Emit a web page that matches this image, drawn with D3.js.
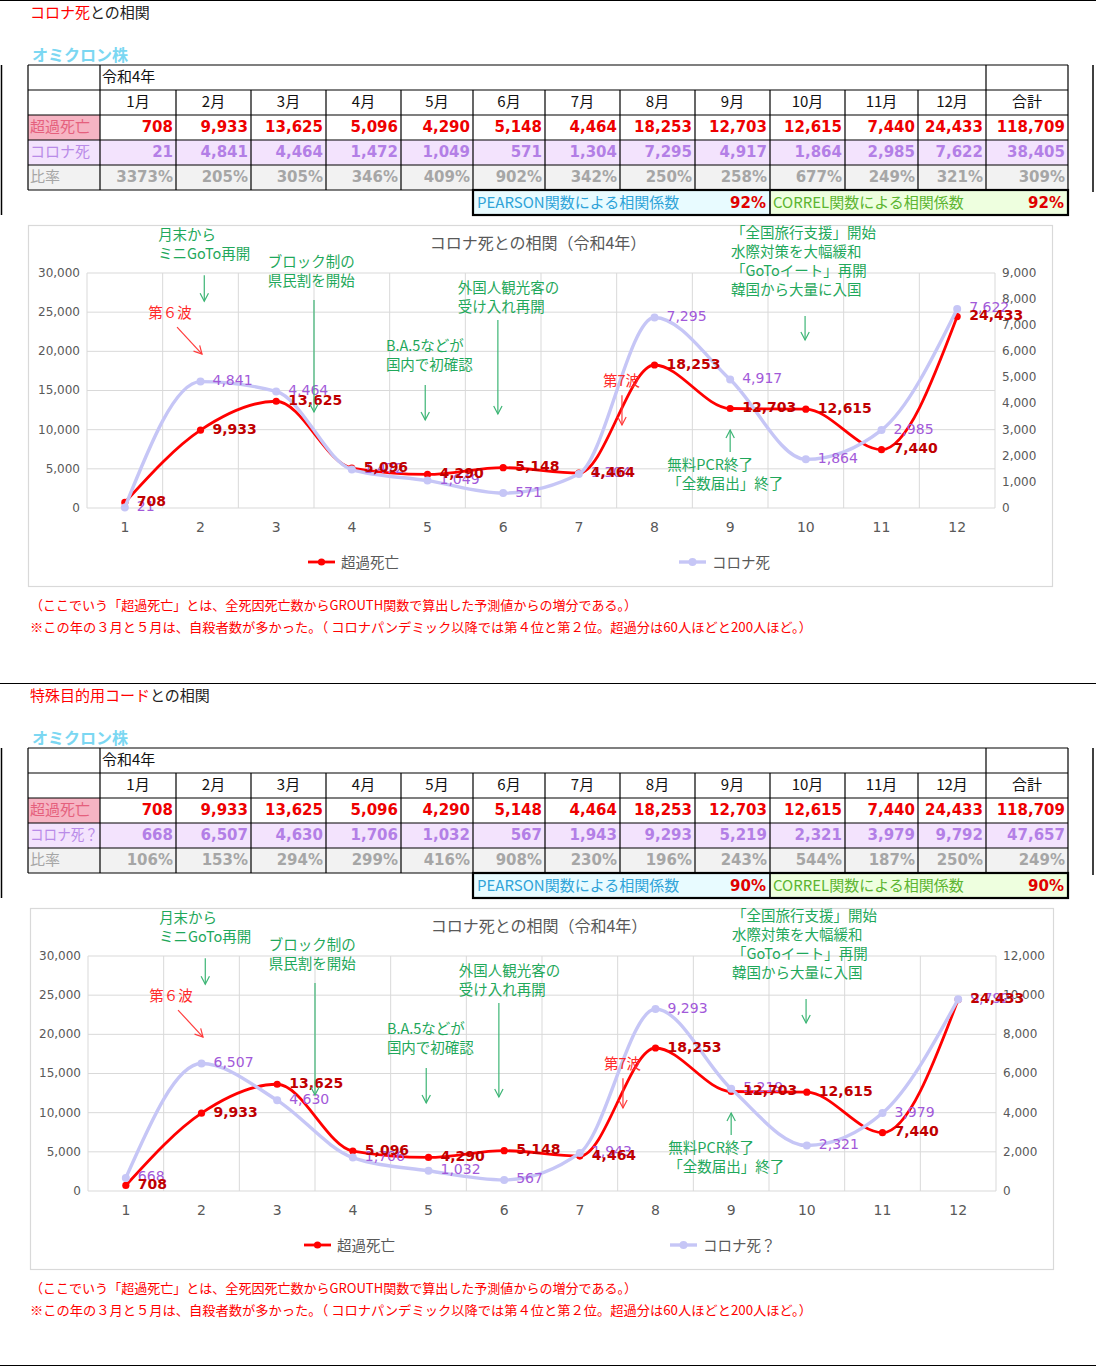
<!DOCTYPE html>
<html>
<head>
<meta charset="utf-8">
<script src="https://cdn.jsdelivr.net/npm/d3@7"></script>
<style>
  body { margin: 0; background: #fff; }
  svg { display: block; font-family: "Noto Sans CJK JP", sans-serif; }
  .num { font-family: "DejaVu Sans", "Noto Sans CJK JP", sans-serif; }
</style>
</head>
<body>
<div id="page"></div>
<script>
//==================== données ====================//
const months = [1, 2, 3, 4, 5, 6, 7, 8, 9, 10, 11, 12];
const monthLabels = ["1月", "2月", "3月", "4月", "5月", "6月", "7月", "8月", "9月", "10月", "11月", "12月"];

const excessDeaths = [708, 9933, 13625, 5096, 4290, 5148, 4464, 18253, 12703, 12615, 7440, 24433];
const excessTotal = 118709;

const coronaDeaths = [21, 4841, 4464, 1472, 1049, 571, 1304, 7295, 4917, 1864, 2985, 7622];
const coronaTotal = 38405;
const coronaRatio = ["3373%", "205%", "305%", "346%", "409%", "902%", "342%", "250%", "258%", "677%", "249%", "321%"];
const coronaRatioTotal = "309%";

const specialDeaths = [668, 6507, 4630, 1706, 1032, 567, 1943, 9293, 5219, 2321, 3979, 9792];
const specialTotal = 47657;
const specialRatio = ["106%", "153%", "294%", "299%", "416%", "908%", "230%", "196%", "243%", "544%", "187%", "250%"];
const specialRatioTotal = "249%";

const pearsonValues = ["92%", "90%"];
const correlValues = ["92%", "90%"];

const leftTicks = [0, 5000, 10000, 15000, 20000, 25000, 30000];
const rightTicks1 = [0, 1000, 2000, 3000, 4000, 5000, 6000, 7000, 8000, 9000];
const rightTicks2 = [0, 2000, 4000, 6000, 8000, 10000, 12000];

// annotations (position en mois / valeur axe gauche)
const noteTexts = [
    { lines: ["月末から", "ミニGoTo再開"], at: [1.44, 35100], red: false },
    { lines: ["ブロック制の", "県民割を開始"], at: [2.89, 31600], red: false },
    { lines: ["第６波"], at: [1.31, 25100], red: true },
    { lines: ["外国人観光客の", "受け入れ再開"], at: [5.40, 28300], red: false },
    { lines: ["B.A.5などが", "国内で初確認"], at: [4.45, 20900], red: false },
    { lines: ["「全国旅行支援」開始", "水際対策を大幅緩和", "「GoToイート」再開", "韓国から大量に入国"], at: [9.01, 35300], red: false },
    { lines: ["第7波"], at: [7.32, 16400], red: true },
    { lines: ["無料PCR終了", "「全数届出」終了"], at: [8.17, 5700], red: false }
];
const noteArrows = [
    { from: [2.05, 29700], to: [2.05, 26400], red: false },
    { from: [3.5, 26550], to: [3.5, 12250], red: false },
    { from: [4.97, 15700], to: [4.97, 11250], red: false },
    { from: [5.93, 24000], to: [5.93, 12000], red: false },
    { from: [9.99, 24500], to: [9.99, 21450], red: false },
    { from: [9.0, 7150], to: [9.0, 9950], red: false },
    { from: [1.69, 23100], to: [2.02, 19650], red: true },
    { from: [7.57, 14400], to: [7.57, 10600], red: true }
];

const footnote1 = "（ここでいう「超過死亡」とは、全死因死亡数からGROUTH関数で算出した予測値からの増分である。）";
const footnote2 = "※この年の３月と５月は、自殺者数が多かった。（ コロナパンデミック以降では第４位と第２位。超過分は60人ほどと200人ほど。）";

const sections = [
    { top: 0, titleRed: "コロナ死", rowLabel: "コロナ死", legendLabel: "コロナ死",
      values: coronaDeaths, total: coronaTotal, ratio: coronaRatio, ratioTotal: coronaRatioTotal,
      pearson: pearsonValues[0], correl: correlValues[0],
      rightMax: 9000, rightTicks: rightTicks1, dx: 0, legendX: [308, 679] },
    { top: 683, titleRed: "特殊目的用コード", rowLabel: "コロナ死？", legendLabel: "コロナ死？",
      values: specialDeaths, total: specialTotal, ratio: specialRatio, ratioTotal: specialRatioTotal,
      pearson: pearsonValues[1], correl: correlValues[1],
      rightMax: 12000, rightTicks: rightTicks2, dx: 1, legendX: [304, 670] }
];

//==================== couleurs ====================//
const RED = "#ff0000";
const LABEL_RED = "#c00000";
const LAV_LINE = "#c6c6f6";
const LAV_TEXT = "#a259d9";
const GREEN = "#1fa85b";
const GREEN_LINE = "#3db575";
const AXIS_GREY = "#595959";
const GRID = "#d9d9d9";

const fmt = d3.format(",");

const W = 1096, H = 1367;
const svg = d3.select("#page").append("svg").attr("width", W).attr("height", H);

// lignes de séparation
[0.5, 683.5, 1365.5].forEach(y => {
    svg.append("line").attr("x1", 0).attr("x2", W).attr("y1", y).attr("y2", y)
        .attr("stroke", "#000").attr("stroke-width", 1.2);
});

sections.forEach(s => drawSection(s));

function drawSection(s) {
    const g = svg.append("g").attr("transform", `translate(0,${s.top})`);

    // titre
    const t = g.append("text").attr("x", 30).attr("y", 10.5).attr("dominant-baseline", "central")
        .attr("font-size", 15);
    t.append("tspan").attr("fill", "#ff0000").text(s.titleRed);
    t.append("tspan").attr("fill", "#222").text("との相関");

    g.append("text").attr("x", 32).attr("y", 54).attr("dominant-baseline", "central")
        .attr("font-size", 16).attr("font-weight", "bold").attr("fill", "#7bd7f2")
        .text("オミクロン株");

    // traits verticaux des bords
    g.append("line").attr("x1", 1.5).attr("x2", 1.5).attr("y1", 65).attr("y2", 215)
        .attr("stroke", "#000").attr("stroke-width", 1.5);
    g.append("line").attr("x1", 1093).attr("x2", 1093).attr("y1", 65).attr("y2", 192)
        .attr("stroke", "#000").attr("stroke-width", 1.5);

    drawTable(g, s);
    drawChart(g, s);

    // notes
    [footnote1, footnote2].forEach((txt, i) => {
        g.append("text").attr("x", 30).attr("y", 604 + i * 22).attr("dominant-baseline", "central")
            .attr("font-size", 13).attr("fill", "#ff0000")
            .attr("textLength", i === 0 ? 607 : 782).attr("lengthAdjust", "spacingAndGlyphs")
            .text(txt);
    });
}

//==================== tableau ====================//
function drawTable(g, s) {
    const cols = [28, 100, 176, 251, 326, 401, 473, 545, 620, 695, 770, 845, 918, 986, 1068];
    const top = 65, rh = 25;
    const rowY = i => top + i * rh;

    // fonds
    g.append("rect").attr("x", cols[0]).attr("y", rowY(2)).attr("width", cols[1] - cols[0]).attr("height", rh)
        .attr("fill", "#f6b4c3");
    g.append("rect").attr("x", cols[0]).attr("y", rowY(3)).attr("width", cols[14] - cols[0]).attr("height", rh)
        .attr("fill", "#f3e3fd");
    g.append("rect").attr("x", cols[0]).attr("y", rowY(4)).attr("width", cols[14] - cols[0]).attr("height", rh)
        .attr("fill", "#f2f2f2");

    // lignes horizontales
    for (let i = 0; i <= 5; i++) {
        g.append("line").attr("x1", cols[0]).attr("x2", cols[14]).attr("y1", rowY(i)).attr("y2", rowY(i))
            .attr("stroke", "#000").attr("stroke-width", 1.2);
    }
    // lignes verticales
    [cols[0], cols[1], cols[13], cols[14]].forEach(x => {
        g.append("line").attr("x1", x).attr("x2", x).attr("y1", rowY(0)).attr("y2", rowY(1))
            .attr("stroke", "#000").attr("stroke-width", 1.2);
    });
    cols.forEach(x => {
        g.append("line").attr("x1", x).attr("x2", x).attr("y1", rowY(1)).attr("y2", rowY(5))
            .attr("stroke", "#000").attr("stroke-width", 1.2);
    });

    const mid = i => rowY(i) + 10.5;

    g.append("text").attr("x", 102).attr("y", mid(0)).attr("dominant-baseline", "central")
        .attr("font-size", 15).attr("fill", "#111").text("令和4年");

    monthLabels.concat(["合計"]).forEach((lab, j) => {
        g.append("text").attr("x", (cols[j + 1] + cols[j + 2]) / 2).attr("y", mid(1))
            .attr("dominant-baseline", "central").attr("text-anchor", "middle")
            .attr("font-size", 15).attr("fill", "#111").text(lab);
    });

    const rows = [
        { label: "超過死亡", labelColor: "#e5607d", color: "#ee0000",
          cells: excessDeaths.map(fmt).concat([fmt(excessTotal)]) },
        { label: s.rowLabel, labelColor: "#b98be8", color: "#b37fe6",
          cells: s.values.map(fmt).concat([fmt(s.total)]) },
        { label: "比率", labelColor: "#a6a6a6", color: "#a6a6a6",
          cells: s.ratio.concat([s.ratioTotal]) }
    ];
    rows.forEach((r, k) => {
        const i = k + 2;
        const lt = g.append("text").attr("x", 30).attr("y", mid(i)).attr("dominant-baseline", "central")
            .attr("font-size", 15).attr("fill", r.labelColor).text(r.label);
        // le libellé ne doit pas déborder de la première colonne
        if (lt.node().getComputedTextLength() > 68) {
            lt.attr("textLength", 68).attr("lengthAdjust", "spacingAndGlyphs");
        }
        r.cells.forEach((c, j) => {
            g.append("text").attr("class", "num").attr("x", cols[j + 2] - 3).attr("y", mid(i) + 1)
                .attr("dominant-baseline", "central").attr("text-anchor", "end")
                .attr("font-size", 15).attr("font-weight", "bold").attr("fill", r.color).text(c);
        });
    });

    // boîtes PEARSON / CORREL
    const by = rowY(5);
    g.append("rect").attr("x", cols[6]).attr("y", by).attr("width", cols[10] - cols[6]).attr("height", rh)
        .attr("fill", "#e8fbff");
    g.append("rect").attr("x", cols[10]).attr("y", by).attr("width", cols[14] - cols[10]).attr("height", rh)
        .attr("fill", "#eeffdf");
    g.append("rect").attr("x", cols[6]).attr("y", by).attr("width", cols[14] - cols[6]).attr("height", rh)
        .attr("fill", "none").attr("stroke", "#000").attr("stroke-width", 2.2);
    g.append("line").attr("x1", cols[10]).attr("x2", cols[10]).attr("y1", by).attr("y2", by + rh)
        .attr("stroke", "#000").attr("stroke-width", 1.6);

    g.append("text").attr("x", cols[6] + 4).attr("y", by + 11.5).attr("dominant-baseline", "central")
        .attr("font-size", 15).attr("fill", "#2fa3d8").text("PEARSON関数による相関係数");
    g.append("text").attr("class", "num").attr("x", cols[10] - 4).attr("y", by + 12.5)
        .attr("dominant-baseline", "central").attr("text-anchor", "end")
        .attr("font-size", 15).attr("font-weight", "bold").attr("fill", "#e00000").text(s.pearson);
    g.append("text").attr("x", cols[10] + 3).attr("y", by + 11.5).attr("dominant-baseline", "central")
        .attr("font-size", 15).attr("fill", "#5cb531").text("CORREL関数による相関係数");
    g.append("text").attr("class", "num").attr("x", cols[14] - 4).attr("y", by + 12.5)
        .attr("dominant-baseline", "central").attr("text-anchor", "end")
        .attr("font-size", 15).attr("font-weight", "bold").attr("fill", "#e00000").text(s.correl);
}

//==================== graphique ====================//
function drawChart(g, s) {
    const dx = s.dx;
    const boxX = 28.5 + dx * 2, boxY = 225.5;
    g.append("rect").attr("x", boxX).attr("y", boxY).attr("width", 1024 - dx).attr("height", 361)
        .attr("fill", "#fff").attr("stroke", GRID).attr("stroke-width", 1.2);

    g.append("text").attr("x", 538 + dx).attr("y", 241.5).attr("dominant-baseline", "central")
        .attr("text-anchor", "middle").attr("font-size", 16).attr("fill", AXIS_GREY)
        .text("コロナ死との相関（令和4年）");

    const px0 = 87 + dx, px1 = 995 + dx, py0 = 508, py1 = 273;

    const x = d3.scaleBand().domain(months).range([px0, px1]);
    const cx = m => x(m) + x.bandwidth() / 2;
    const xm = d3.scaleLinear().domain([0.5, 12.5]).range([px0, px1]);
    const yL = d3.scaleLinear().domain([0, 30000]).range([py0, py1]);
    const yR = d3.scaleLinear().domain([0, s.rightMax]).range([py0, py1]);

    // grille
    leftTicks.forEach(v => {
        g.append("line").attr("x1", px0).attr("x2", px1).attr("y1", yL(v)).attr("y2", yL(v))
            .attr("stroke", GRID).attr("stroke-width", 1);
    });
    months.map(m => x(m)).concat([px1]).forEach(xx => {
        g.append("line").attr("x1", xx).attr("x2", xx).attr("y1", py1).attr("y2", py0)
            .attr("stroke", GRID).attr("stroke-width", 1);
    });

    // axes
    const axL = g.append("g").attr("transform", `translate(${px0},0)`)
        .call(d3.axisLeft(yL).tickValues(leftTicks).tickFormat(fmt).tickSize(0).tickPadding(7));
    const axR = g.append("g").attr("transform", `translate(${px1},0)`)
        .call(d3.axisRight(yR).tickValues(s.rightTicks).tickFormat(fmt).tickSize(0).tickPadding(7));
    const axB = g.append("g").attr("transform", `translate(0,${py0})`)
        .call(d3.axisBottom(x).tickSize(0).tickPadding(0));
    [axL, axR, axB].forEach(a => {
        a.select(".domain").remove();
        a.selectAll("text").attr("class", "num").attr("fill", AXIS_GREY)
            .attr("font-family", "DejaVu Sans, sans-serif").attr("font-size", 12);
    });
    axL.selectAll("text").attr("dy", "0.28em");
    axR.selectAll("text").attr("dy", "0.28em");
    axB.selectAll("text").attr("font-size", 14).attr("y", 19).attr("dy", "0.35em");

    // courbes
    const line = d3.line().curve(d3.curveMonotoneX);
    const redPts = months.map((m, i) => [cx(m), yL(excessDeaths[i])]);
    const lavPts = months.map((m, i) => [cx(m), yR(s.values[i])]);

    g.append("path").attr("d", line(redPts)).attr("fill", "none")
        .attr("stroke", RED).attr("stroke-width", 2.8);
    g.selectAll(null).data(redPts).enter().append("circle")
        .attr("cx", d => d[0]).attr("cy", d => d[1]).attr("r", 3.6).attr("fill", RED);

    g.append("path").attr("d", line(lavPts)).attr("fill", "none")
        .attr("stroke", LAV_LINE).attr("stroke-width", 3.4);
    g.selectAll(null).data(lavPts).enter().append("circle")
        .attr("cx", d => d[0]).attr("cy", d => d[1]).attr("r", 4).attr("fill", LAV_LINE);

    // étiquettes
    lavPts.forEach((p, i) => {
        g.append("text").attr("class", "num").attr("x", p[0] + 12).attr("y", p[1] - 1.5)
            .attr("dominant-baseline", "central").attr("font-size", 14).attr("fill", LAV_TEXT)
            .text(fmt(s.values[i]));
    });
    redPts.forEach((p, i) => {
        g.append("text").attr("class", "num").attr("x", p[0] + 12).attr("y", p[1] - 1.5)
            .attr("dominant-baseline", "central").attr("font-size", 14).attr("font-weight", "bold")
            .attr("fill", LABEL_RED).text(fmt(excessDeaths[i]));
    });

    // annotations
    noteTexts.forEach(n => {
        n.lines.forEach((l, i) => {
            g.append("text").attr("x", xm(n.at[0])).attr("y", yL(n.at[1]) + i * 19)
                .attr("dominant-baseline", "central").attr("font-size", 14.5)
                .attr("fill", n.red ? "#ff2a2a" : GREEN).text(l);
        });
    });
    noteArrows.forEach(a => {
        const x1 = xm(a.from[0]), y1 = yL(a.from[1]), x2 = xm(a.to[0]), y2 = yL(a.to[1]);
        const col = a.red ? "#ff3b3b" : GREEN_LINE;
        g.append("line").attr("x1", x1).attr("y1", y1).attr("x2", x2).attr("y2", y2)
            .attr("stroke", col).attr("stroke-width", 1.2);
        const ang = Math.atan2(y2 - y1, x2 - x1);
        const len = 9, spread = Math.PI / 6.5;
        const head = [ang + Math.PI - spread, ang + Math.PI + spread].map(b => [x2 + len * Math.cos(b), y2 + len * Math.sin(b)]);
        g.append("path").attr("d", `M${head[0][0]},${head[0][1]}L${x2},${y2}L${head[1][0]},${head[1][1]}`)
            .attr("fill", "none").attr("stroke", col).attr("stroke-width", 1.2);
    });

    // légende
    const ly = 562;
    [[s.legendX[0], RED, 2.8, 3.6, "超過死亡"], [s.legendX[1], LAV_LINE, 3.4, 4, s.legendLabel]].forEach(([lx, col, w, r, lab]) => {
        g.append("line").attr("x1", lx).attr("x2", lx + 27).attr("y1", ly).attr("y2", ly)
            .attr("stroke", col).attr("stroke-width", w);
        g.append("circle").attr("cx", lx + 13.5).attr("cy", ly).attr("r", r).attr("fill", col);
        g.append("text").attr("x", lx + 33).attr("y", ly - 0.5).attr("dominant-baseline", "central")
            .attr("font-size", 14.5).attr("fill", AXIS_GREY).text(lab);
    });
}
</script>
</body>
</html>
